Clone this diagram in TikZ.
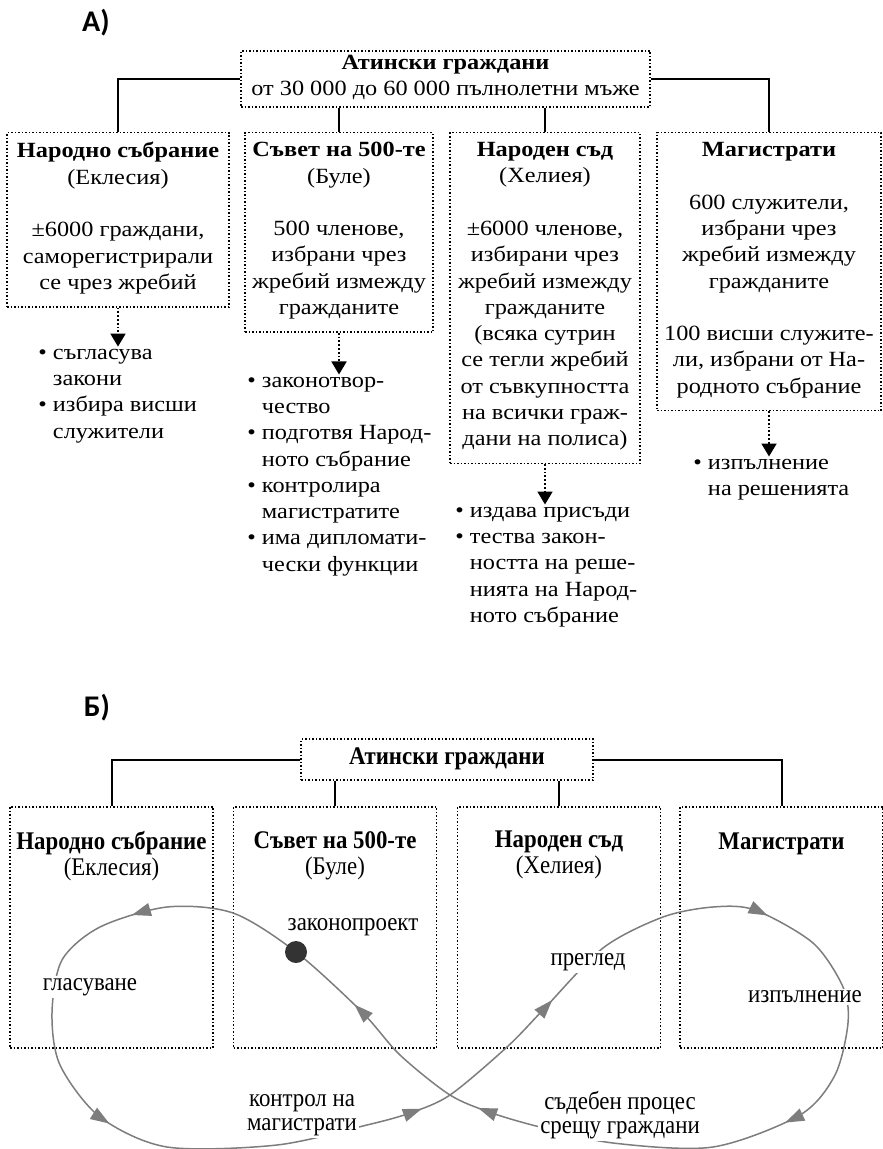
\documentclass[tikz,border=0pt]{standalone}
\usepackage{fontspec}
\setmainfont{Liberation Serif}
\newfontfamily\widefont{Liberation Serif}[FakeStretch=1.12]
\newfontfamily\tallfont{Liberation Serif}[FakeStretch=0.9]
\newfontfamily\headfont{Carlito}
\usepackage{tikz}
\usetikzlibrary{positioning,arrows.meta,decorations.markings}
\definecolor{loopgray}{RGB}{125,125,125}
\definecolor{dotgray}{RGB}{51,51,51}
\newcommand{\ind}{\hphantom{•~}}

\begin{document}
\begin{tikzpicture}[x=0.5pt,y=-0.5pt,font=\widefont\fontsize{10.85}{13.15}\selectfont]%
  %px grid of the original, y downwards
  \tikzstyle{head}=[inner sep=0pt,font=\headfont\bfseries\fontsize{15}{18}\selectfont]
  \tikzstyle{box}=[draw,densely dotted,line width=0.75pt,inner xsep=2pt,inner ysep=4.8pt,align=center,anchor=north,execute at begin node=\strut,execute at end node=\strut]
  \tikzstyle{list}=[anchor=north west,inner sep=0pt,align=left,execute at begin node=\strut,execute at end node=\strut]
  \tikzstyle{link}=[line width=1pt]
  \tikzstyle{duty}=[densely dotted,line width=0.9pt,-{Triangle[length=6.5pt,width=7.5pt]},shorten >=1pt]
  \tikzstyle{btext}=[font=\tallfont\fontsize{12.7}{13}\selectfont]
  \tikzstyle{bbox}=[draw,densely dotted,line width=0.75pt,anchor=north,minimum width=101.5pt,minimum height=120.5pt,inner sep=0pt]
  \tikzstyle{btitle}=[btext,inner sep=0pt,align=center,execute at begin node=\strut]
  \tikzstyle{lbl}=[fill=white,inner sep=1pt,align=center,font=\tallfont\fontsize{12.7}{12}\selectfont]
  \tikzstyle{dot}=[circle,fill=dotgray,minimum size=11pt,inner sep=0pt]
  \tikzstyle{turn}=[color=loopgray,line width=0.75pt,postaction={decorate},
    decoration={markings,
      mark=at position 0.051 with {\arrow{Triangle[length=9.5pt,width=6.5pt]}},
      mark=at position 0.185 with {\arrow{Triangle[length=9.5pt,width=6.5pt]}},
      mark=at position 0.345 with {\arrow{Triangle[length=9.5pt,width=6.5pt]}},
      mark=at position 0.430 with {\arrow{Triangle[length=9.5pt,width=6.5pt]}},
      mark=at position 0.553 with {\arrow{Triangle[length=9.5pt,width=6.5pt]}},
      mark=at position 0.686 with {\arrow{Triangle[length=9.5pt,width=6.5pt]}},
      mark=at position 0.843 with {\arrow{Triangle[length=9.5pt,width=6.5pt]}},
      mark=at position 0.924 with {\arrow{Triangle[length=9.5pt,width=6.5pt]}}}]
  \useasboundingbox (0,0) rectangle (882,1149);

  % A)
  \node[head] (headA) at (96,23) {А)};
  \node[box,anchor=center,inner ysep=1pt,minimum width=204.5pt,minimum height=28pt] (citA) at (445.5,79)
    {\textbf{Атински граждани}\\от 30 000 до 60 000 пълнолетни мъже};
  \node[box,minimum width=111pt] (ekl) at (118,132)
    {\textbf{Народно събрание}\\(Еклесия)\\[\baselineskip]±6000 граждани,\\саморегистрирали\\се чрез жребий};
  \node[box,minimum width=94pt] (bule) at (339,132)
    {\textbf{Съвет на 500-те}\\(Буле)\\[\baselineskip]500 членове,\\избрани чрез\\жребий измежду\\гражданите};
  \node[box,minimum width=95pt] (hel) at (545,132)
    {\textbf{Народен съд}\\(Хелиея)\\[\baselineskip]±6000 членове,\\избирани чрез\\жребий измежду\\гражданите\\(всяка сутрин\\се тегли жребий\\от съвкупността\\на всички граж-\\дани на полиса)};
  \node[box,minimum width=112pt] (mag) at (769,132)
    {\textbf{Магистрати}\\[\baselineskip]600 служители,\\избрани чрез\\жребий измежду\\гражданите\\[\baselineskip]100 висши служите-\\ли, избрани от На-\\родното събрание};
  \node[list] (eklL) at (38,348.6) {• съгласува\\\ind закони\\• избира висши\\\ind служители};
  \node[list] (buleL) at (247,376.5) {• законотвор-\\\ind чество\\• подготвя Народ-\\\ind ното събрание\\• контролира\\\ind магистратите\\• има дипломати-\\\ind чески функции};
  \node[list] (helL) at (455,506.5) {• издава присъди\\• тества закон-\\\ind ността на реше-\\\ind нията на Народ-\\\ind ното събрание};
  \node[list] (magL) at (693,458.5) {• изпълнение\\\ind на решенията};
  \draw[link] (citA.west) -| (ekl.north);
  \draw[link] (bule.north |- citA.south) -- (bule.north);
  \draw[link] (hel.north |- citA.south) -- (hel.north);
  \draw[link] (citA.east) -| (mag.north);
  \draw[duty] (ekl.south) -- (ekl.south |- eklL.north);
  \draw[duty] (bule.south) -- (bule.south |- buleL.north);
  \draw[duty] (hel.south) -- (hel.south |- helL.north);
  \draw[duty] (mag.south) -- (mag.south |- magL.north);

  % Б)
  \node[head] (headB) at (97,708) {Б)};
  \node[box,btext,anchor=center,inner ysep=1pt,minimum width=146pt,minimum height=20.5pt] (citB) at (447,759.5)
    {\textbf{Атински граждани}};
  \node[bbox] (eklB) at (111.5,806) {};
  \node[bbox] (buleB) at (335,806) {};
  \node[bbox] (helB) at (559,806) {};
  \node[bbox] (magB) at (781.5,806) {};
  \node[btitle,below=12.4pt of eklB.north] (eklT) {\textbf{Народно събрание}\\(Еклесия)};
  \node[btitle,below=12.4pt of buleB.north] (buleT) {\textbf{Съвет на 500-те}\\(Буле)};
  \node[btitle,below=12.4pt of helB.north] (helT) {\textbf{Народен съд}\\(Хелиея)};
  \node[btitle,below=12.4pt of magB.north] (magT) {\textbf{Магистрати}};
  \draw[link] (citB.west) -| (eklB.north);
  \draw[link] (buleB.north |- citB.south) -- (buleB.north);
  \draw[link] (helB.north |- citB.south) -- (helB.north);
  \draw[link] (citB.east) -| (magB.north);

  \draw[turn] plot[smooth cycle] coordinates {(296,952) (233,913) (167,907) (100,927) (62,960) (52,1013)
    (60,1065) (100,1117) (167,1147) (277,1145) (367,1125) (410,1113) (450,1095) (507,1047) (543,1010)
    (603,948) (663,917) (713,907) (755,910) (813,943) (843,987) (848,1023) (835,1075) (800,1115)
    (713,1147) (613,1143) (540,1127) (492,1113) (450,1095) (400,1055) (362,1012)};
  \node[dot] (bill) at (296,952) {};
  \node[btext,inner sep=1pt] (billT) at (353,927) {законопроект};
  \node[lbl] (vote) at (90,987) {гласуване};
  \node[lbl] (ctrl) at (302,1115) {контрол на\\магистрати};
  \node[lbl] (trial) at (620,1115) {съдебен процес\\срещу граждани};
  \node[lbl] (rev) at (588,962) {преглед};
  \node[lbl] (exec) at (805,997) {изпълнение};
\end{tikzpicture}
\end{document}
